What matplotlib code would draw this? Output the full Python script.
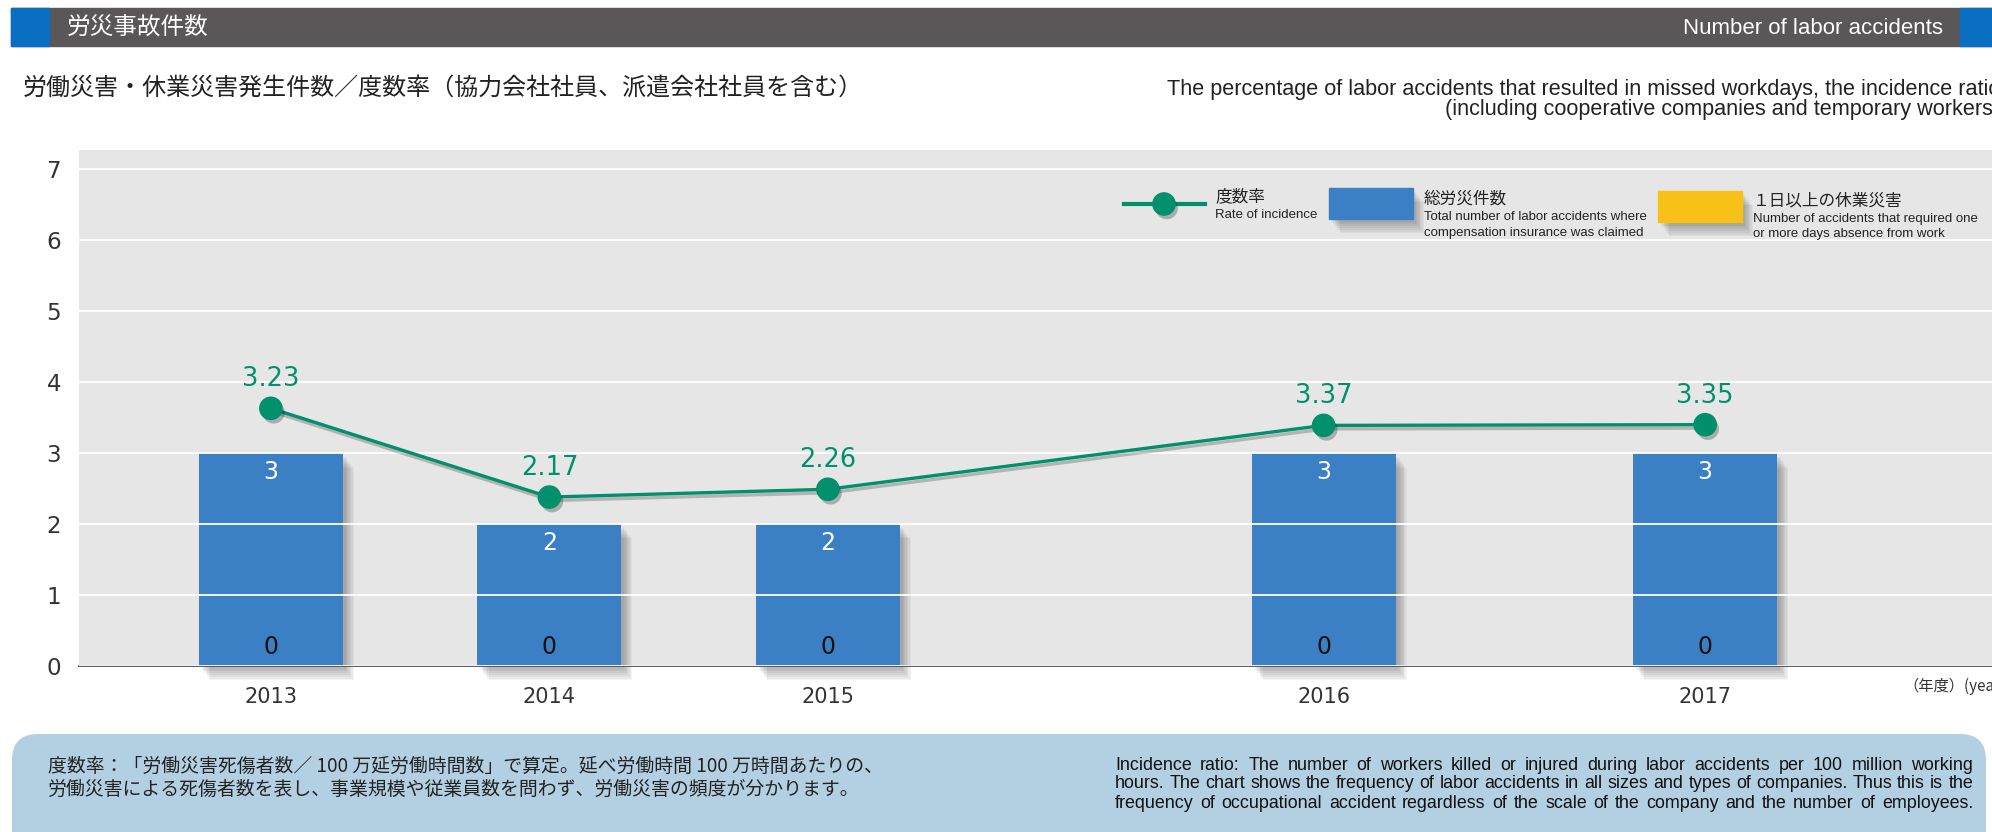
import matplotlib.pyplot as plt
from matplotlib import patheffects as pe
from matplotlib.patches import Rectangle, FancyBboxPatch

# data
years = ['2013', '2014', '2015', '2016', '2017']
year_pos = [0, 1, 2, 3.78, 5.15]          # uneven spacing as in the original
total_accidents = [3, 2, 2, 3, 3]          # 総労災件数
absence_accidents = [0, 0, 0, 0, 0]        # 1日以上の休業災害
rate_labels = [3.23, 2.17, 2.26, 3.37, 3.35]   # 度数率 (printed values)
rate_drawn = [3.63, 2.38, 2.49, 3.39, 3.40]    # heights the points sit at

W, H = 1992, 832
JP = ['Noto Sans CJK JP', 'DejaVu Sans']
EN = ['Liberation Sans', 'DejaVu Sans']
EN_N = ['Liberation Sans Narrow', 'Liberation Sans', 'DejaVu Sans']
NUM = ['DejaVu Sans']

grey_hdr = '#595757'
blue_hdr = '#0a6fc2'
blue = '#3b80c4'
green = '#00906b'
yellow = '#f8c117'

fig = plt.figure(figsize=(W / 100, H / 100), dpi=100)
fig.patch.set_facecolor('white')
renderer = fig.canvas.get_renderer()


def width_of(t):
    return t.get_window_extent(renderer).width


def text_block(axis, x, y0, dy, lines, ref_width, size, **kw):
    # several lines sharing one size; size shrunk/grown so the first line is ref_width wide
    arts = [axis.text(x, y0 + i * dy, s, va='center', fontsize=size, **kw) for i, s in enumerate(lines)]
    k = ref_width / width_of(arts[0])
    for a in arts:
        a.set_fontsize(size * k)
    return arts


def justified(axis, x0, x1, y, line, **kw):
    # spread the words of one line between x0 and x1 (pixel axes)
    words = line.split(' ')
    arts = [axis.text(0, y, w, va='center', **kw) for w in words]
    widths = [width_of(a) for a in arts]
    gap = (x1 - x0 - sum(widths)) / (len(words) - 1)
    x = x0
    for a, w in zip(arts, widths):
        a.set_x(x)
        x += w + gap


# background layer in pixel coordinates
bg = fig.add_axes([0, 0, 1, 1], zorder=0)
bg.set_xlim(0, W)
bg.set_ylim(H, 0)
bg.axis('off')

bg.add_patch(Rectangle((11, 8), W - 11, 38, color=grey_hdr))
bg.add_patch(Rectangle((11, 8), 38, 38, color=blue_hdr))
bg.add_patch(Rectangle((1960, 8), 40, 38, color=blue_hdr))
bg.text(67, 28, '労災事故件数', family=JP, fontsize=17, color='white', va='center')
bg.text(1943, 28, 'Number of labor accidents', family=EN, fontsize=16, color='white',
        va='center', ha='right')

bg.text(23, 88, '労働災害・休業災害発生件数／度数率（協力会社社員、派遣会社社員を含む）',
        family=JP, fontsize=17.3, color='#222222', va='center')
bg.text(2000, 89, 'The percentage of labor accidents that resulted in missed workdays, the incidence ratio',
        family=EN, fontsize=15.6, color='#222222', va='center', ha='right')
bg.text(2000, 109, '(including cooperative companies and temporary workers)',
        family=EN, fontsize=15.6, color='#222222', va='center', ha='right')

bg.text(1903, 686, '（年度）(year)', family=JP, fontsize=11, color='#333333', va='center')

# footer box
r = 26
bg.add_patch(FancyBboxPatch((12 + r, 734 + r), 1986 - 12 - 2 * r, 860 - 734 - 2 * r,
                            boxstyle=f'round,pad={r},rounding_size={r}',
                            facecolor='#b3d0e3', edgecolor='none'))
bg.text(48, 766, '度数率：「労働災害死傷者数／ 100 万延労働時間数」で算定。延べ労働時間 100 万時間あたりの、',
        family=JP, fontsize=13.6, color='#222222', va='center')
bg.text(48, 789, '労働災害による死傷者数を表し、事業規模や従業員数を問わず、労働災害の頻度が分かります。',
        family=JP, fontsize=13.6, color='#222222', va='center')

en_note = ['Incidence ratio: The number of workers killed or injured during labor accidents per 100 million working',
           'hours. The chart shows the frequency of labor accidents in all sizes and types of companies. Thus this is the',
           'frequency of occupational accident regardless of the scale of the company and the number of employees.']
# pick a size at which the longest line just fits the justified width
note_size = 13.5
probe = [bg.text(0, 0, s, fontsize=note_size, family=EN_N) for s in en_note]
longest = max(width_of(p) for p in probe)
for p in probe:
    p.remove()
note_size = min(note_size, note_size * (1973 - 1115) / longest * 0.995)
for i, line in enumerate(en_note):
    justified(bg, 1115, 1973, 765 + i * 19, line, family=EN_N, fontsize=note_size, color='#111111')

# main chart
ax = fig.add_axes([79 / W, 1 - 666 / H, (W - 79) / W, (666 - 150) / H], zorder=1)
ax.set_facecolor('#e6e6e6')
ax.set_xlim(-0.689, 6.18)
ax.set_ylim(0, 7.27)
for s in ['top', 'right', 'left']:
    ax.spines[s].set_visible(False)
ax.spines['bottom'].set_color('#4d4d4d')
ax.spines['bottom'].set_linewidth(1.3)
ax.set_yticks(range(8))
ax.yaxis.grid(True, color='white', linewidth=1.3)
ax.set_axisbelow(False)
ax.tick_params(axis='y', length=0, pad=13, labelsize=16.6, labelcolor='#333333')
ax.set_xticks(year_pos, years)
ax.tick_params(axis='x', length=0, pad=15, labelsize=15, labelcolor='#333333')
for lab in ax.get_xticklabels() + ax.get_yticklabels():
    lab.set_family(NUM)

bar_shadow = [pe.SimplePatchShadow(offset=(o, -1.3 * o), shadow_rgbFace='black', alpha=0.045)
              for o in (2, 3, 4, 5, 6, 7, 8)] + [pe.Normal()]
ax.bar(year_pos, total_accidents, width=0.517, color=blue, clip_on=False, zorder=1,
       path_effects=bar_shadow)
ax.bar(year_pos, absence_accidents, width=0.517, color=yellow, zorder=1.1)

for x, t, a in zip(year_pos, total_accidents, absence_accidents):
    ax.text(x, t - 0.27, str(t), ha='center', va='center', color='white',
            fontsize=17, family=NUM, zorder=6)
    ax.text(x, a + 0.27, str(a), ha='center', va='center', color='#111111',
            fontsize=17, family=NUM, zorder=6)

ax.plot(year_pos, rate_drawn, color=green, lw=2.4, zorder=4,
        path_effects=[pe.SimpleLineShadow(offset=(1.5, -2.5), shadow_color='black', alpha=0.22),
                      pe.Normal()])
ax.plot(year_pos, rate_drawn, 'o', ms=16, color=green, zorder=5,
        path_effects=[pe.SimplePatchShadow(offset=(2, -3), shadow_rgbFace='black', alpha=0.25),
                      pe.Normal()])
for x, y, v in zip(year_pos, rate_drawn, rate_labels):
    ax.annotate(f'{v:.2f}', (x, y), xytext=(0, 21), textcoords='offset points',
                ha='center', va='center', color=green, fontsize=18.5, family=NUM, zorder=6)

# legend drawn by hand on top
lg = fig.add_axes([0, 0, 1, 1], zorder=2)
lg.set_xlim(0, W)
lg.set_ylim(H, 0)
lg.axis('off')

lg.plot([1124, 1205], [204, 204], color=green, lw=3)
lg.plot([1164], [204], 'o', ms=16, color=green,
        path_effects=[pe.SimplePatchShadow(offset=(2, -3), shadow_rgbFace='black', alpha=0.25),
                      pe.Normal()])
lg.text(1215, 197, '度数率', family=JP, fontsize=12, color='#222222', va='center')
text_block(lg, 1215, 215, 16, ['Rate of incidence'], 103, 10,
           family=EN_N, color='#222222')

lg.add_patch(Rectangle((1329, 188), 84, 31, color=blue, path_effects=bar_shadow))
lg.text(1424, 199, '総労災件数', family=JP, fontsize=12, color='#222222', va='center')
text_block(lg, 1424, 217, 16, ['Total number of labor accidents where',
                               'compensation insurance was claimed'], 225, 10,
           family=EN_N, color='#222222')

lg.add_patch(Rectangle((1658, 191), 84, 31, color=yellow, path_effects=bar_shadow))
lg.text(1753, 201, '１日以上の休業災害', family=JP, fontsize=12, color='#222222', va='center')
text_block(lg, 1753, 219, 15.5, ['Number of accidents that required one',
                                 'or more days absence from work'], 226, 10,
           family=EN_N, color='#222222')

fig.savefig('out.png', dpi=100)
